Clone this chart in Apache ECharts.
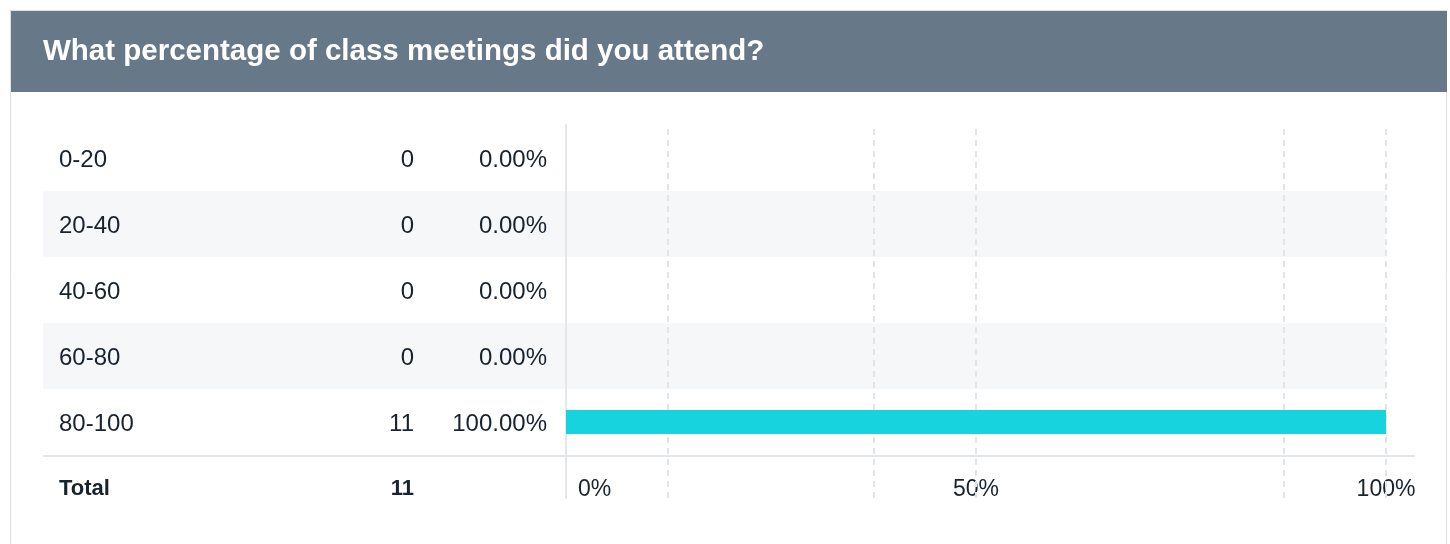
<!DOCTYPE html>
<html>
<head>
<meta charset="utf-8">
<script src="https://cdn.jsdelivr.net/npm/echarts@6/dist/echarts.min.js"></script>
<style>
  html, body { margin: 0; padding: 0; background: #fff; }
  #main { width: 1450px; height: 544px; }
</style>
</head>
<body>
<div id="main"></div>
<script>
// question + answer rows
var questionTitle = 'What percentage of class meetings did you attend?';
var categories = ['0-20', '20-40', '40-60', '60-80', '80-100'];
var counts = [0, 0, 0, 0, 11];
var percents = [0, 0, 0, 0, 100];
var percentLabels = ['0.00%', '0.00%', '0.00%', '0.00%', '100.00%'];
var totalLabel = 'Total';
var totalCount = 11;
// dashed guide lines (percent positions as drawn in the original)
var guideValues = [12.44, 37.56, 50, 87.56, 100];

var textColor = '#17232f';
var fontFam = '"Liberation Sans", Arial, Helvetica, sans-serif';

var myChart = echarts.init(document.getElementById('main'));

function cell(w, align) {
    return {
        width: w,
        align: align,
        padding: [5, 0, 0, 0],
        color: textColor,
        fontSize: 24,
        fontFamily: fontFam
    };
}

var option = {
    animation: false,
    backgroundColor: '#fff',
    title: {
        text: questionTitle,
        left: 43,
        top: 37,
        padding: 0,
        textStyle: {
            color: '#fff',
            fontSize: 29.5,
            fontWeight: 'bold',
            fontFamily: fontFam
        }
    },
    graphic: [{
        type: 'rect',
        z: -10,
        shape: {x: 10.5, y: 10.5, width: 1436, height: 600},
        style: {fill: '#fff', stroke: '#dde1e5', lineWidth: 1}
    }, {
        type: 'rect',
        z: -9,
        shape: {x: 11, y: 11, width: 1436, height: 81},
        style: {fill: '#677889'}
    }, {
        type: 'line',
        z: 5,
        shape: {x1: 43, y1: 456, x2: 1415, y2: 456},
        style: {stroke: '#e3e6ea', lineWidth: 2}
    }, {
        type: 'text',
        z: 5,
        x: 59,
        y: 489,
        style: {
            text: totalLabel,
            fill: textColor,
            font: 'bold 22px ' + fontFam,
            verticalAlign: 'middle'
        }
    }, {
        type: 'text',
        z: 5,
        x: 414,
        y: 489,
        style: {
            text: String(totalCount),
            fill: textColor,
            font: 'bold 22px ' + fontFam,
            align: 'right',
            verticalAlign: 'middle'
        }
    }],
    grid: [{
        // table rows
        left: 43,
        right: 64,
        top: 125,
        height: 330
    }, {
        // bar scale area
        left: 566,
        right: 64,
        top: 125,
        bottom: 46
    }],
    xAxis: [{
        type: 'value',
        gridIndex: 0,
        min: -63.78,
        max: 100,
        show: false
    }, {
        type: 'value',
        gridIndex: 1,
        min: 0,
        max: 100,
        interval: 50,
        axisLine: {show: false},
        axisTick: {show: false},
        splitLine: {show: false},
        axisLabel: {
            inside: true,
            margin: -3,
            color: textColor,
            fontSize: 23,
            fontFamily: fontFam,
            formatter: function (v) {
                if (v === 0) {
                    return '{first|0%}';
                }
                return v + '%';
            },
            rich: {
                first: {
                    padding: [0, 0, 0, 57],
                    color: textColor,
                    fontSize: 23,
                    fontFamily: fontFam
                }
            }
        }
    }],
    yAxis: [{
        type: 'category',
        gridIndex: 0,
        inverse: true,
        data: categories,
        axisLine: {show: false},
        axisTick: {show: false},
        splitLine: {show: false},
        splitArea: {
            show: true,
            areaStyle: {color: ['rgba(255,255,255,0)', '#f6f7f9']}
        },
        axisLabel: {
            inside: true,
            margin: 16,
            formatter: function (v, i) {
                return '{a|' + v + '}{b|' + counts[i] + '}{c|' + percentLabels[i] + '}';
            },
            rich: {
                a: cell(300, 'left'),
                b: cell(55, 'right'),
                c: cell(133, 'right')
            }
        }
    }, {
        type: 'value',
        gridIndex: 1,
        min: 0,
        max: 1,
        axisLine: {show: true, onZero: false, lineStyle: {color: '#e4e7eb', width: 2}},
        axisTick: {show: false},
        axisLabel: {show: false},
        splitLine: {show: false}
    }],
    series: [{
        type: 'bar',
        xAxisIndex: 0,
        yAxisIndex: 0,
        barWidth: 24,
        z: 10,
        itemStyle: {color: '#16d3dd'},
        data: percents
    }, {
        type: 'line',
        xAxisIndex: 1,
        yAxisIndex: 1,
        symbol: 'none',
        silent: true,
        z: 1,
        lineStyle: {opacity: 0},
        data: [[0, 0]],
        markLine: {
            silent: true,
            symbol: 'none',
            z: 1,
            label: {show: false},
            lineStyle: {color: '#e2e5e8', width: 2, type: [6, 5]},
            data: guideValues.map(function (v) {
                return {xAxis: v};
            })
        }
    }]
};

myChart.setOption(option);
</script>
</body>
</html>
